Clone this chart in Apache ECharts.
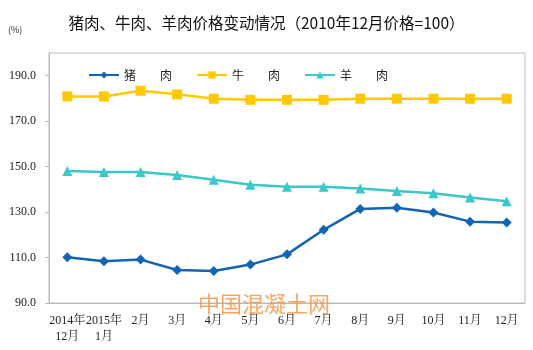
<!DOCTYPE html>
<html><head><meta charset="utf-8">
<script src="https://cdn.jsdelivr.net/npm/echarts@6/dist/echarts.min.js"></script>
<style>html,body{margin:0;padding:0;background:#fff}#c{width:533px;height:350px}</style>
</head><body><div id="c"></div>
<script>
var categories = ['2014年\n12月','2015年\n1月','2月','3月','4月','5月','6月','7月','8月','9月','10月','11月','12月'];
var seriesNames = ['猪　　肉','牛　　肉','羊　　肉'];
var pork = [110.1,108.4,109.1,104.5,104.1,106.9,111.4,122.2,131.4,131.9,129.8,125.8,125.4];
var beef = [180.9,180.9,183.4,181.8,179.9,179.4,179.4,179.4,179.9,179.9,179.9,179.9,179.9];
var lamb = [148.1,147.6,147.6,146.3,144.2,142.0,141.1,141.1,140.4,139.3,138.3,136.4,134.8];
var titleText = '猪肉、牛肉、羊肉价格变动情况（2010年12月价格=100）';
var unitText = '(%)';
var watermark = '中国混凝土网';

var chart = echarts.init(document.getElementById('c'));
var serifFont = '"Liberation Serif","Noto Serif CJK SC","Noto Sans CJK SC",serif';
var cjkFont = '"Noto Sans CJK SC",sans-serif';
function mk(name, data, color, symbol, size){
  return {name:name, type:'line', data:data, symbol:symbol, symbolSize:size,
    lineStyle:{color:color,width:2.5}, itemStyle:{color:color}, z:3};
}
chart.setOption({
  animation:false,
  backgroundColor:'#fff',
  title:{text:titleText,left:'center',top:10,textStyle:{fontFamily:cjkFont,fontSize:15.5,fontWeight:'normal',color:'#111'}},
  graphic:[
    {type:'text',left:8,top:25,style:{text:unitText,fontSize:9,fill:'#333',fontFamily:cjkFont}},
    {type:'text',left:198,top:293,z:10,style:{text:watermark,fontSize:22,fill:'rgba(244,145,60,0.8)',fontFamily:cjkFont}}
  ],
  legend:{left:83,top:64,itemWidth:30,itemHeight:9,itemGap:24,
    textStyle:{fontFamily:cjkFont,fontSize:12,color:'#222'},
    data:seriesNames},
  grid:{left:49,right:8,top:53,bottom:47,show:true,borderColor:'#bbb',borderWidth:1},
  xAxis:{type:'category',data:categories,boundaryGap:true,
    axisLine:{lineStyle:{color:'#bbb'}},axisTick:{show:false},
    axisLabel:{interval:0,color:'#222',fontFamily:serifFont,fontSize:12,margin:10,lineHeight:16}},
  yAxis:{type:'value',min:90,max:200,interval:20,
    axisLine:{show:true,lineStyle:{color:'#bbb'}},axisTick:{show:true,length:4,lineStyle:{color:'#bbb'}},
    splitLine:{show:false},
    axisLabel:{showMaxLabel:false,color:'#222',fontFamily:serifFont,fontSize:12,margin:13,formatter:function(v){return v.toFixed(1);}}},
  series:[
    mk(seriesNames[0],pork,'#1464B4','diamond',10),
    mk(seriesNames[1],beef,'#FFC800','rect',10),
    mk(seriesNames[2],lamb,'#3CC8C8','triangle',10)
  ]
});
</script></body></html>
